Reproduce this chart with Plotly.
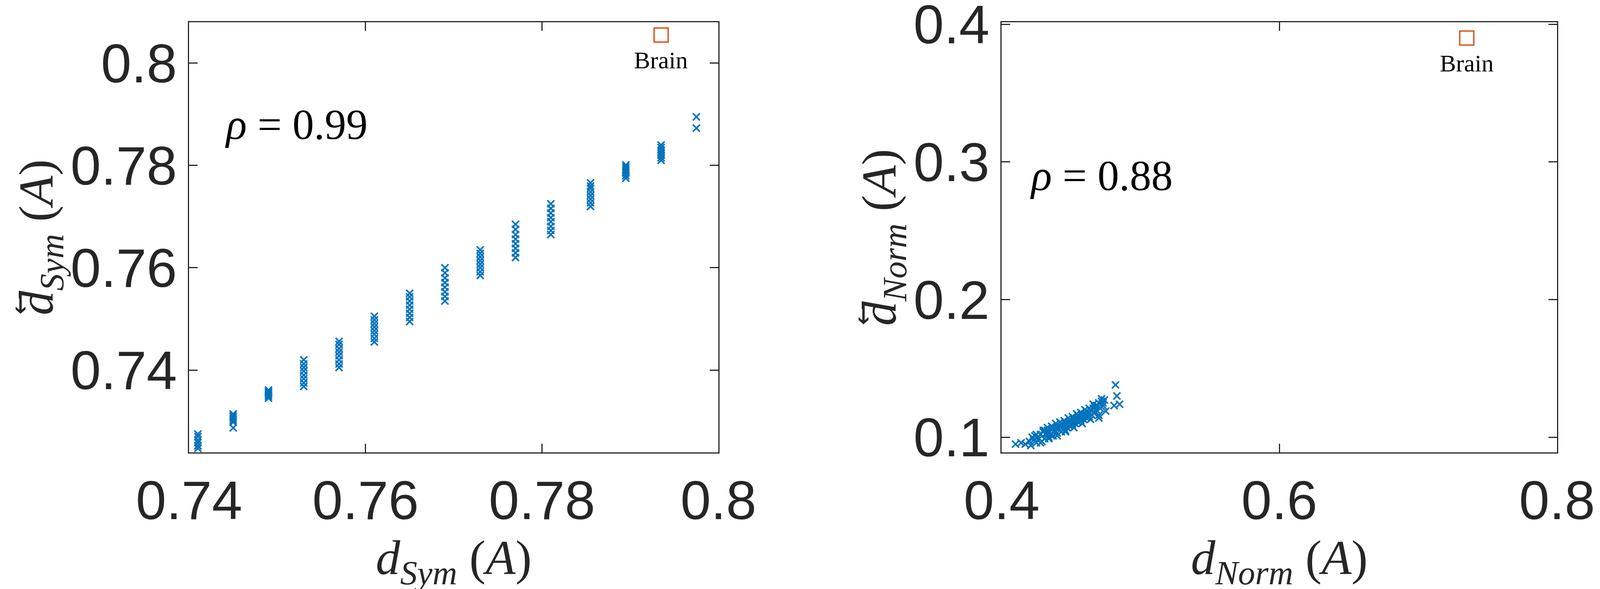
import plotly.graph_objects as go

# left panel: columns of d_Sym values and their reversed-distance values
sym_x = [0.741, 0.745, 0.749, 0.753, 0.757, 0.761, 0.765, 0.769, 0.773, 0.777, 0.781, 0.7855, 0.7895, 0.7935, 0.7975]
sym_y = [
    [0.7247, 0.7252, 0.7258, 0.7263, 0.7270, 0.7275],
    [0.7287, 0.7298, 0.7302, 0.7306, 0.7310, 0.7314],
    [0.7345, 0.7349, 0.7352, 0.7355, 0.7358, 0.7361],
    [0.7368, 0.7375, 0.7383, 0.7390, 0.7398, 0.7405, 0.7412, 0.7420],
    [0.7405, 0.7412, 0.7420, 0.7428, 0.7435, 0.7442, 0.7450, 0.7456],
    [0.7455, 0.7462, 0.7470, 0.7477, 0.7484, 0.7491, 0.7498, 0.7505],
    [0.7495, 0.7503, 0.7511, 0.7519, 0.7527, 0.7535, 0.7543, 0.7550],
    [0.7535, 0.7544, 0.7553, 0.7562, 0.7571, 0.7580, 0.7590, 0.7600],
    [0.7585, 0.7592, 0.7600, 0.7607, 0.7614, 0.7621, 0.7628, 0.7635],
    [0.7620, 0.7629, 0.7638, 0.7647, 0.7656, 0.7665, 0.7675, 0.7685],
    [0.7665, 0.7673, 0.7681, 0.7690, 0.7698, 0.7707, 0.7716, 0.7725],
    [0.7720, 0.7727, 0.7734, 0.7741, 0.7748, 0.7755, 0.7760, 0.7766],
    [0.7775, 0.7780, 0.7785, 0.7789, 0.7793, 0.7797, 0.7801],
    [0.7810, 0.7815, 0.7820, 0.7825, 0.7830, 0.7835, 0.7840],
    [0.7873, 0.7895],
]
sym_brain = (0.7935, 0.8055)

# right panel: d_Norm cloud
norm_x = [0.410, 0.414, 0.417, 0.420, 0.421, 0.423, 0.424, 0.425, 0.426, 0.428, 0.429, 0.430,
          0.431, 0.432, 0.433, 0.434, 0.435, 0.436, 0.437, 0.438, 0.439, 0.440, 0.441, 0.442,
          0.443, 0.444, 0.445, 0.446, 0.447, 0.448, 0.449, 0.450, 0.451, 0.452, 0.453, 0.454,
          0.455, 0.456, 0.457, 0.458, 0.459, 0.460, 0.461, 0.462, 0.463, 0.464, 0.465, 0.466,
          0.467, 0.468, 0.469, 0.470, 0.471, 0.472, 0.473, 0.474, 0.427, 0.432, 0.438, 0.444,
          0.450, 0.456, 0.462, 0.468, 0.430, 0.436, 0.442, 0.448, 0.454, 0.460, 0.466, 0.472,
          0.482, 0.483, 0.485, 0.481, 0.422, 0.434, 0.446, 0.458, 0.470,
          0.425, 0.431, 0.437, 0.443, 0.449, 0.455, 0.461, 0.467, 0.473,
          0.428, 0.434, 0.440, 0.446, 0.452, 0.458, 0.464, 0.470,
          0.433, 0.439, 0.445, 0.451, 0.457, 0.463, 0.469, 0.475]
norm_y = [0.095, 0.096, 0.095, 0.097, 0.094, 0.098, 0.101, 0.096, 0.100, 0.102, 0.097, 0.104,
          0.099, 0.103, 0.105, 0.100, 0.102, 0.106, 0.101, 0.104, 0.107, 0.103, 0.106, 0.108,
          0.104, 0.109, 0.106, 0.110, 0.107, 0.111, 0.108, 0.112, 0.109, 0.113, 0.110, 0.114,
          0.111, 0.115, 0.112, 0.116, 0.113, 0.117, 0.114, 0.118, 0.115, 0.120, 0.116, 0.121,
          0.118, 0.123, 0.119, 0.125, 0.121, 0.126, 0.123, 0.127, 0.099, 0.102, 0.104, 0.107,
          0.110, 0.113, 0.116, 0.120, 0.105, 0.108, 0.111, 0.114, 0.117, 0.120, 0.124, 0.128,
          0.138, 0.130, 0.124, 0.123, 0.100, 0.103, 0.105, 0.110, 0.114,
          0.102, 0.105, 0.107, 0.110, 0.113, 0.116, 0.119, 0.122, 0.125,
          0.096, 0.099, 0.101, 0.104, 0.107, 0.110, 0.113, 0.116,
          0.107, 0.110, 0.112, 0.115, 0.118, 0.121, 0.123, 0.119]
norm_brain = (0.735, 0.390)

blue = "#0072BD"
orange = "#D95319"
sans = "Liberation Sans"
serif = "Liberation Serif"

fig = go.Figure()

xs, ys = [], []
for x, col in zip(sym_x, sym_y):
    xs += [x] * len(col)
    ys += col
xmark = dict(symbol="x-thin", size=18, line=dict(width=4, color=blue))
fig.add_trace(go.Scatter(x=xs, y=ys, mode="markers", marker=xmark, xaxis="x", yaxis="y"))
fig.add_trace(go.Scatter(x=[sym_brain[0]], y=[sym_brain[1]], mode="markers", xaxis="x", yaxis="y",
                         marker=dict(symbol="square-open", size=36, color=orange, line=dict(width=3.5))))
fig.add_trace(go.Scatter(x=norm_x, y=norm_y, mode="markers", marker=xmark, xaxis="x2", yaxis="y2"))
fig.add_trace(go.Scatter(x=[norm_brain[0]], y=[norm_brain[1]], mode="markers", xaxis="x2", yaxis="y2",
                         marker=dict(symbol="square-open", size=36, color=orange, line=dict(width=3.5))))

axis_common = dict(showgrid=False, zeroline=False, showline=True, mirror="ticks", linecolor="#262626",
                   linewidth=3, ticks="inside", ticklen=22, tickwidth=3, tickcolor="#262626",
                   ticklabeloverflow="allow",
                   tickfont=dict(family=sans, size=140, color="#262626"))
title_font = dict(family=serif, size=125, color="#262626")
arrow_d = "<i>d</i><span style='font-family:DejaVu Serif'>\u20d6</span>"

fig.update_layout(
    xaxis=dict(axis_common, domain=[0.0, 0.387], anchor="y", range=[0.74, 0.8],
               tickvals=[0.74, 0.76, 0.78, 0.8], ticktext=["0.74", "0.76", "0.78", "0.8"],
               title=dict(text="<i>d</i><sub><i>Sym</i></sub> (<i>A</i>)", font=title_font, standoff=0)),
    yaxis=dict(axis_common, domain=[0, 1], anchor="x", range=[0.7239, 0.808],
               tickvals=[0.74, 0.76, 0.78, 0.8], ticktext=["0.74", "0.76", "0.78", "0.8"],
               title=dict(text=arrow_d + "<sub><i>Sym</i></sub> (<i>A</i>)", font=title_font, standoff=0)),
    xaxis2=dict(axis_common, domain=[0.594, 1.0], anchor="y2", range=[0.4, 0.8],
                tickvals=[0.4, 0.6, 0.8], ticktext=["0.4", "0.6", "0.8"],
                title=dict(text="<i>d</i><sub><i>Norm</i></sub> (<i>A</i>)", font=title_font, standoff=0)),
    yaxis2=dict(axis_common, domain=[0, 1], anchor="x2", range=[0.089, 0.4015],
                tickvals=[0.1, 0.2, 0.3, 0.4], ticktext=["0.1", "0.2", "0.3", "0.4"],
                title=dict(text=arrow_d + "<sub><i>Norm</i></sub> (<i>A</i>)", font=title_font, standoff=0)),
)

fig.add_annotation(x=0.744, y=0.788, xref="x", yref="y", text="<i>ρ</i> = 0.99", showarrow=False,
                   xanchor="left", font=dict(family=serif, size=110, color="black"))
fig.add_annotation(x=sym_brain[0], y=sym_brain[1], xref="x", yref="y", text="Brain", showarrow=False,
                   yanchor="top", yshift=-28, font=dict(family=serif, size=62, color="black"))
fig.add_annotation(x=0.42, y=0.29, xref="x2", yref="y2", text="<i>ρ</i> = 0.88", showarrow=False,
                   xanchor="left", font=dict(family=serif, size=110, color="black"))
fig.add_annotation(x=norm_brain[0], y=norm_brain[1], xref="x2", yref="y2", text="Brain", showarrow=False,
                   yanchor="top", yshift=-28, font=dict(family=serif, size=62, color="black"))

fig.update_layout(autosize=True, showlegend=False, plot_bgcolor="white", paper_bgcolor="white",
                  margin=dict(l=476, r=102, t=49, b=358, autoexpand=False))

fig.write_html("out.html", default_width="100%", default_height="100vh")
